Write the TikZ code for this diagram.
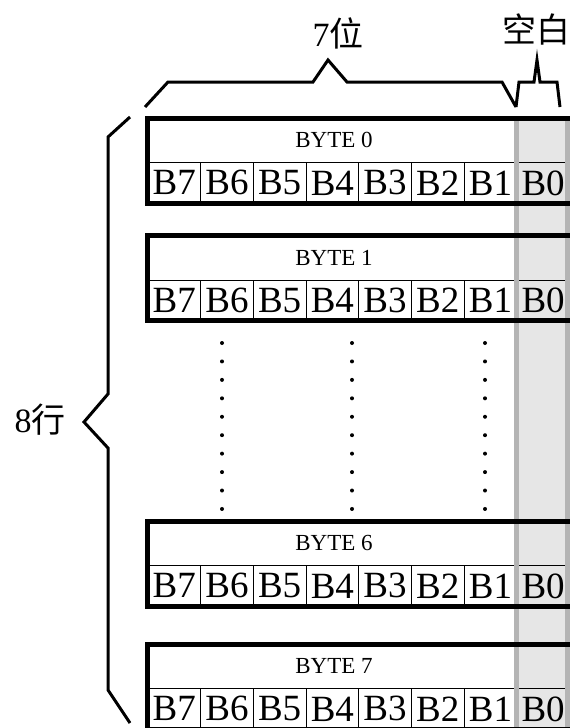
\documentclass[tikz,border=0pt]{standalone}
\usepackage{fontspec}
\setmainfont{Liberation Serif}
\newfontfamily\cjk{Noto Sans CJK SC}
\usepackage{tikz}
\usetikzlibrary{backgrounds}
\definecolor{ColFill}{HTML}{E6E6E6}
\definecolor{ColEdge}{HTML}{B4B4B4}

\begin{document}
\begin{tikzpicture}[x=1pt,y=-1pt,
  cell/.style={draw,line width=0.8pt,minimum width=52.7pt,minimum height=41pt,inner sep=0pt,anchor=north west,font=\fontsize{37}{37}\selectfont},
  bytetitle/.style={font=\fontsize{23}{23}\selectfont},
  byteframe/.style={line width=5pt},
  bline/.style={line width=3pt,line join=miter},
  lbl/.style={font=\fontsize{34}{34}\selectfont,inner sep=0pt}
]
\useasboundingbox (0,0) rectangle (570,728);

% bytes
\foreach \k/\yy in {0/118,1/235.5,6/521,7/644} {
  \node[bytetitle] (t\k) at (334,\yy+22) {BYTE \k};
  \foreach \i in {0,...,7} {
    \pgfmathtruncatemacro\b{7-\i}
    \node[cell] (c\k-\i) at (147.5+\i*52.7,\yy+44) {B\b};
  }
}

% blank column
\begin{scope}[on background layer]
\fill[ColFill] (516,118) rectangle (568,740);
\end{scope}
\draw[ColEdge,line width=5pt] (516,118) -- (516,740) (567.5,118) -- (567.5,740);

\foreach \yy in {118,235.5,521,644}
  \draw[byteframe] (147.5,\yy) rectangle (576,\yy+85);

% dots
\foreach \xx in {222,352,485}
  \foreach \j in {0,...,9}
    \fill (\xx,343+\j*18.44) circle (2pt);

% braces
\draw[bline] (145,107) -- (168,82) -- (313,82) -- (328,60) -- (347,82) -- (502,82) -- (516,107);
\draw[bline] (516,107) -- (519,82) -- (534,82) -- (537,60) -- (540,82) -- (557,82) -- (560,107);
\draw[bline] (130,117) -- (108,137) -- (108,394) -- (84,422) -- (108,448) -- (108,690) -- (130,723);

\node[lbl] (bits) at (338,33) {7\cjk{位}};
\node[lbl] (blank) at (536,29) {\cjk{空白}};
\node[lbl] (rows) at (40,420) {8\cjk{行}};
\end{tikzpicture}
\end{document}
